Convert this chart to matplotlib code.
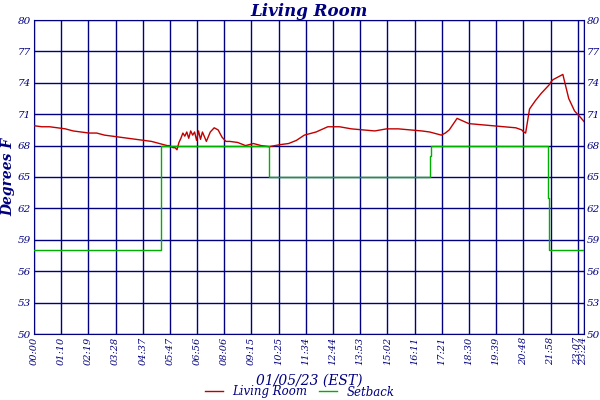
import matplotlib
matplotlib.use("Agg")
import matplotlib.pyplot as plt

# data (minutes since midnight, degrees F)
room_t = [0, 20, 40, 60, 80, 100, 120, 140, 160, 180, 200, 220, 240, 260, 280, 300, 320, 340, 345, 350, 355, 360,
          365, 370, 375, 380, 385, 390, 395, 400, 405, 410, 415, 420, 425, 430, 440, 450, 460, 470, 480, 490, 500,
          520, 540, 560, 580, 600, 615, 630, 650, 670, 690, 720, 750, 780, 810, 840, 870, 900, 930, 960, 990,
          1010, 1020, 1030, 1040, 1050, 1060, 1080, 1110, 1140, 1170, 1200, 1230, 1245, 1250, 1255, 1265, 1280,
          1295, 1305, 1315, 1320, 1325, 1335, 1350, 1365, 1380, 1395, 1404]
room_v = [69.9, 69.8, 69.8, 69.7, 69.6, 69.4, 69.3, 69.2, 69.2, 69.0, 68.9, 68.8, 68.7, 68.6, 68.5, 68.4, 68.2, 68.0, 68.0, 67.9, 67.8, 67.8,
          67.6, 68.3, 68.7, 69.2, 68.9, 69.3, 68.7, 69.4, 69.0, 69.3, 68.5, 69.4, 68.6, 69.3, 68.4, 69.3, 69.7, 69.5, 68.8, 68.4, 68.4,
          68.3, 68.0, 68.2, 68.0, 67.9, 68.0, 68.1, 68.2, 68.5, 69.0, 69.3, 69.8, 69.8, 69.6, 69.5, 69.4, 69.6, 69.6, 69.5, 69.4,
          69.3, 69.2, 69.1, 69.0, 69.2, 69.5, 70.6, 70.1, 70.0, 69.9, 69.8, 69.7, 69.5, 69.3, 69.2, 71.5, 72.3,
          73.0, 73.4, 73.8, 74.1, 74.3, 74.5, 74.8, 72.5, 71.3, 70.7, 70.3]
set_t = [0, 323, 323, 324, 324, 600, 600, 601, 601, 1012, 1012, 1014, 1014, 1313, 1313, 1314, 1314, 1404]
set_v = [58, 58, 63, 63, 68, 68, 67.6, 67.6, 65, 65, 67, 67, 68, 68, 63, 63, 58, 58]
xtick_labels = ["00:00", "01:10", "02:19", "03:28", "04:37", "05:47", "06:56", "08:06", "09:15", "10:25", "11:34",
                "12:44", "13:53", "15:02", "16:11", "17:21", "18:30", "19:39", "20:48", "21:58", "23:07", "23:24"]
ytick_vals = [50, 53, 56, 59, 62, 65, 68, 71, 74, 77, 80]

navy = "#000080"
plt.rcParams["font.family"] = "DejaVu Serif"
fig = plt.figure(figsize=(6, 4), dpi=100)
ax = fig.add_axes([34/600, 66/400, 550/600, 314/400])
ax.plot(room_t, room_v, color="#c00000", lw=1, label="Living Room", zorder=3)
ax.plot(set_t, set_v, color="#00b000", lw=1, label="Setback", zorder=3)
ax.set_xlim(0, 1404)
ax.set_ylim(50, 80)
xt = [i * 69.4 for i in range(21)] + [1404]
ax.set_xticks(xt)
ax.set_xticklabels(xtick_labels, rotation=90, fontsize=7, style="italic", color=navy)
ax.set_yticks(ytick_vals)
ax.set_yticklabels([str(v) for v in ytick_vals], fontsize=7.5, style="italic", color=navy)
ax.tick_params(axis="both", length=0, pad=2, labelright=True)
ax.grid(True, color=navy, lw=1)
for s in ax.spines.values():
    s.set_color(navy)
ax.set_title("Living Room", fontsize=12, style="italic", fontweight="bold", color=navy, pad=3)
ax.set_ylabel("Degrees F", fontsize=10, style="italic", fontweight="bold", color=navy, labelpad=2)
ax.set_xlabel("01/05/23 (EST)", fontsize=10, style="italic", color=navy, labelpad=6)
h, l = ax.get_legend_handles_labels()
leg = fig.legend(h, l, loc="center", bbox_to_anchor=(0.5, 8/400), ncol=2, frameon=False, fontsize=8.5,
                 handlelength=1.5, columnspacing=1.0, borderpad=0)
for t in leg.get_texts():
    t.set_color(navy); t.set_style("italic")
fig.savefig("out.png", dpi=100)
